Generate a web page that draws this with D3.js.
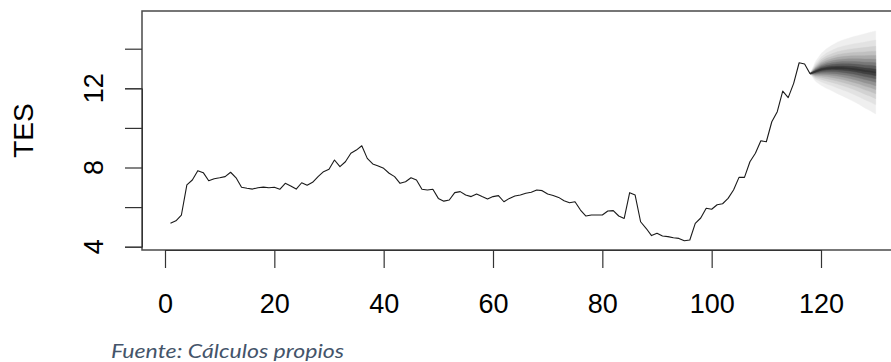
<!DOCTYPE html>
<html>
<head>
<meta charset="utf-8">
<script src="https://cdn.jsdelivr.net/npm/d3@7"></script>
<style>
  html, body { margin: 0; padding: 0; background: #fff; }
  svg { display: block; }
</style>
</head>
<body>
<svg id="chart" width="891" height="362"></svg>
<script>
// Observed TES series, periods 1..118
const obsValues = [
  5.18, 5.31, 5.60, 7.12, 7.37, 7.84, 7.74, 7.33, 7.43, 7.48,
  7.54, 7.76, 7.48, 7.00, 6.95, 6.91, 6.98, 7.01, 6.98, 7.00,
  6.90, 7.20, 7.07, 6.91, 7.23, 7.10, 7.25, 7.54, 7.79, 7.91,
  8.38, 8.04, 8.29, 8.72, 8.88, 9.10, 8.46, 8.18, 8.08, 7.96,
  7.71, 7.54, 7.20, 7.28, 7.48, 7.37, 6.90, 6.86, 6.90, 6.44,
  6.30, 6.36, 6.73, 6.78, 6.61, 6.53, 6.66, 6.53, 6.41, 6.53,
  6.58, 6.27, 6.44, 6.56, 6.61, 6.70, 6.75, 6.86, 6.83, 6.66,
  6.59, 6.49, 6.32, 6.22, 6.27, 5.85, 5.55, 5.60, 5.60, 5.60,
  5.80, 5.82, 5.55, 5.43, 6.73, 6.61, 5.26, 4.93, 4.56, 4.68,
  4.54, 4.51, 4.45, 4.42, 4.30, 4.34, 5.18, 5.45, 5.94, 5.89,
  6.12, 6.17, 6.44, 6.86, 7.50, 7.50, 8.29, 8.72, 9.35, 9.30,
  10.31, 10.82, 11.86, 11.53, 12.25, 13.29, 13.23, 12.74
];

// Forecast periods (origin at last observation) with central path and
// half-width of the outermost band
const fcPeriods = [118, 119, 120, 121, 122, 123, 124, 125, 126, 127, 128, 129, 130];
const fcMedian  = [12.74, 12.85, 12.95, 13.00, 13.02, 13.03, 13.02, 13.00, 12.97, 12.93, 12.88, 12.85, 12.80];
const fcOuter   = [0, 0.50, 0.80, 1.00, 1.15, 1.30, 1.42, 1.53, 1.64, 1.75, 1.87, 1.98, 2.10];

// Band probabilities (lower tail) shading from outside in, with normal quantiles
const bandProbs = [0.05, 0.10, 0.15, 0.20, 0.25, 0.30, 0.35, 0.40, 0.45];
const bandZ     = [1.645, 1.282, 1.036, 0.842, 0.674, 0.524, 0.385, 0.253, 0.126];
const bandFill  = ["#efefef", "#e2e2e2", "#d2d2d2", "#c0c0c0", "#aaaaaa", "#929292", "#787878", "#5c5c5c", "#404040"];

const xTicks = [0, 20, 40, 60, 80, 100, 120];
const yTicks = [4, 6, 8, 10, 12, 14];
const yTickLabels = [4, 8, 12];

const svg = d3.select("#chart");

const x = d3.scaleLinear().domain([0, 120]).range([165, 821]);
const y = d3.scaleLinear().domain([4, 12]).range([246.7, 88.3]);

const box = { left: 142, top: 11, right: 900, bottom: 250 };

// fan bands
const fanG = svg.append("g");
bandZ.forEach((z, i) => {
  const k = z / bandZ[0];
  const area = d3.area()
    .x((d, j) => x(fcPeriods[j]))
    .y0((d, j) => y(fcMedian[j] - k * fcOuter[j]))
    .y1((d, j) => y(fcMedian[j] + k * fcOuter[j]));
  fanG.append("path")
    .attr("d", area(fcPeriods))
    .attr("fill", bandFill[i])
    .attr("stroke", bandFill[i])
    .attr("stroke-width", 0.4);
});
fanG.append("path")
  .attr("d", d3.line().x((d, j) => x(fcPeriods[j])).y((d, j) => y(fcMedian[j]))(fcPeriods))
  .attr("fill", "none")
  .attr("stroke", "#333")
  .attr("stroke-width", 1.6);

// observed line
svg.append("path")
  .attr("d", d3.line().x((d, i) => x(i + 1)).y(d => y(d))(obsValues))
  .attr("fill", "none")
  .attr("stroke", "#1a1a1a")
  .attr("stroke-width", 1.1)
  .attr("stroke-linejoin", "round");

// plot frame
svg.append("rect")
  .attr("x", box.left).attr("y", box.top)
  .attr("width", box.right - box.left).attr("height", box.bottom - box.top)
  .attr("fill", "none")
  .attr("stroke", "#4a4a4a")
  .attr("stroke-width", 1.5);

// x axis
const xAxis = d3.axisBottom(x).tickValues(xTicks).tickSize(18).tickPadding(26)
  .tickFormat(d3.format("d"));
const gx = svg.append("g").attr("transform", `translate(0,${box.bottom})`).call(xAxis);
gx.select(".domain").attr("stroke", "#333").attr("stroke-width", 1);
gx.selectAll(".tick line").attr("stroke", "#333").attr("stroke-width", 1.2);
gx.selectAll(".tick text")
  .attr("font-family", "'Liberation Sans', Arial, sans-serif")
  .attr("font-size", 27)
  .attr("fill", "#000");

// y axis
const yAxis = d3.axisLeft(y).tickValues(yTicks).tickSize(17).tickFormat(() => "");
const gy = svg.append("g").attr("transform", `translate(${box.left},0)`).call(yAxis);
gy.select(".domain").attr("stroke", "#333").attr("stroke-width", 1);
gy.selectAll(".tick line").attr("stroke", "#333").attr("stroke-width", 1.2);

svg.append("g").selectAll("text")
  .data(yTickLabels)
  .join("text")
  .attr("transform", d => `translate(103,${y(d)}) rotate(-90)`)
  .attr("text-anchor", "middle")
  .attr("font-family", "'Liberation Sans', Arial, sans-serif")
  .attr("font-size", 27)
  .attr("fill", "#000")
  .text(d => d);

// y title
svg.append("text")
  .attr("transform", `translate(33,${(box.top + box.bottom) / 2}) rotate(-90)`)
  .attr("text-anchor", "middle")
  .attr("font-family", "'Liberation Sans', Arial, sans-serif")
  .attr("font-size", 28)
  .attr("fill", "#000")
  .text("TES");

// source note
svg.append("text")
  .attr("x", 111).attr("y", 358)
  .attr("font-family", "Lato, 'Open Sans', sans-serif")
  .attr("font-style", "italic")
  .attr("font-size", 18.5)
  .attr("fill", "#44546a")
  .attr("textLength", 233)
  .attr("lengthAdjust", "spacingAndGlyphs")
  .text("Fuente: Cálculos propios");
</script>
</body>
</html>
